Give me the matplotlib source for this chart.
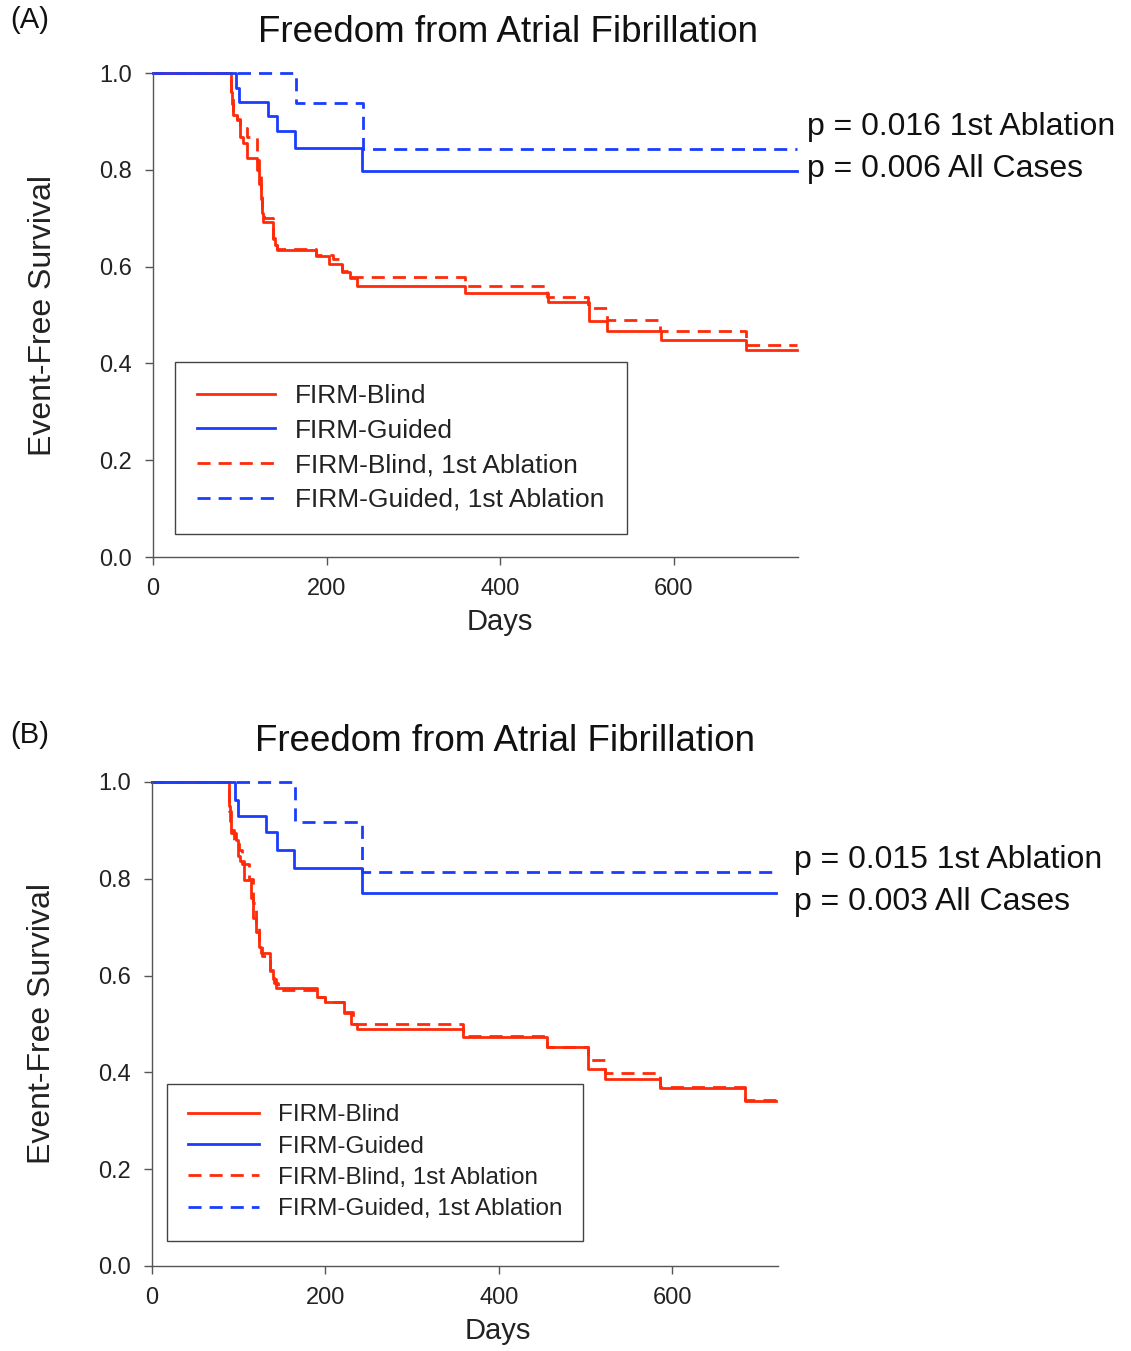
import matplotlib
matplotlib.use("Agg")
import matplotlib.pyplot as plt

plt.rcParams['font.family'] = ['Liberation Sans', 'DejaVu Sans']

# Panel A (Kaplan-Meier step data)
a_blind_t = [0, 90, 91, 92, 97, 100, 104, 108, 120, 122, 124, 126, 127, 138, 141, 143,
             188, 203, 218, 227, 235, 360, 455, 503, 523, 586, 684, 742]
a_blind_s = [1.0, 0.96, 0.935, 0.913, 0.903, 0.868, 0.855, 0.824, 0.80, 0.77, 0.74, 0.71,
             0.693, 0.658, 0.645, 0.634, 0.622, 0.605, 0.589, 0.576, 0.560, 0.545, 0.527,
             0.488, 0.467, 0.448, 0.428, 0.428]
a_blind1_t = [0, 90, 92, 97, 100, 108, 120, 122, 124, 126, 128, 138, 141, 143, 188, 207,
              218, 228, 360, 454, 502, 523, 585, 684, 742]
a_blind1_s = [1.0, 0.95, 0.92, 0.905, 0.886, 0.867, 0.82, 0.79, 0.75, 0.72, 0.70, 0.66,
              0.645, 0.636, 0.624, 0.615, 0.59, 0.578, 0.560, 0.538, 0.514, 0.490, 0.466,
              0.439, 0.439]
a_guided_t = [0, 96, 99, 133, 143, 164, 241, 742]
a_guided_s = [1.0, 0.968, 0.941, 0.911, 0.880, 0.846, 0.798, 0.798]
a_guided1_t = [0, 165, 242, 742]
a_guided1_s = [1.0, 0.939, 0.843, 0.843]

# Panel B
b_blind_t = [0, 89, 90, 91, 97, 99, 101, 106, 114, 117, 120, 123, 126, 136, 139, 143,
             190, 200, 221, 230, 236, 359, 455, 503, 523, 586, 684, 720]
b_blind_s = [1.0, 0.95, 0.92, 0.894, 0.881, 0.847, 0.836, 0.797, 0.76, 0.72, 0.69, 0.66,
             0.646, 0.612, 0.594, 0.574, 0.556, 0.546, 0.522, 0.50, 0.490, 0.474, 0.453,
             0.408, 0.386, 0.367, 0.340, 0.340]
b_blind1_t = [0, 89, 91, 95, 100, 104, 112, 116, 120, 123, 127, 136, 141, 145, 190, 200,
              221, 232, 359, 455, 503, 523, 586, 684, 720]
b_blind1_s = [1.0, 0.94, 0.90, 0.88, 0.86, 0.83, 0.80, 0.75, 0.70, 0.67, 0.64, 0.61,
              0.585, 0.570, 0.556, 0.546, 0.525, 0.499, 0.475, 0.453, 0.426, 0.398, 0.370,
              0.342, 0.342]
b_guided_t = [0, 96, 99, 132, 144, 164, 242, 720]
b_guided_s = [1.0, 0.963, 0.930, 0.896, 0.860, 0.822, 0.770, 0.770]
b_guided1_t = [0, 165, 242, 720]
b_guided1_s = [1.0, 0.917, 0.815, 0.815]

labels = ['FIRM-Blind', 'FIRM-Guided', 'FIRM-Blind, 1st Ablation', 'FIRM-Guided, 1st Ablation']
xticks = [0, 200, 400, 600]
yticks = [0.0, 0.2, 0.4, 0.6, 0.8, 1.0]

RED = '#ff2a0a'
BLUE = '#1a3cff'
DASH = (0, (4.7, 2.9))

W, H = 1131, 1351
fig = plt.figure(figsize=(W / 100, H / 100), dpi=100)


def panel(rect, xmax, series, pvals, ptxt_xy, tag, tag_y, title_x, xlab_x,
          leg_anchor, leg_fs, leg_sp):
    ax = fig.add_axes(rect)
    styles = [(RED, '-'), (BLUE, '-'), (RED, DASH), (BLUE, DASH)]
    for (t, s), (c, ls), lab in zip(series, styles, labels):
        ax.step(t, s, where='post', color=c, linestyle=ls, lw=2.0, label=lab,
                clip_on=False)
    ax.set_xlim(0, xmax)
    ax.set_ylim(0, 1.0)
    ax.set_xticks(xticks)
    ax.set_yticks(yticks)
    ax.set_yticklabels(['%.1f' % v for v in yticks])
    for sp in ['top', 'right']:
        ax.spines[sp].set_visible(False)
    for sp in ['left', 'bottom']:
        ax.spines[sp].set_color('#555555')
        ax.spines[sp].set_linewidth(1.0)
    ax.tick_params(direction='out', length=6, width=1.0, color='#555555',
                   labelsize=17, pad=9, labelcolor='#222222')
    ax.set_xlabel('Days', fontsize=21, labelpad=6, color='#222222', x=xlab_x)
    ax.set_ylabel('Event-Free Survival', fontsize=23, labelpad=30, color='#222222')
    ax.set_title('Freedom from Atrial Fibrillation', fontsize=26.5, pad=22,
                 color='#111111', x=title_x)
    leg = ax.legend(loc='lower left', bbox_to_anchor=leg_anchor, borderaxespad=0,
                    fontsize=leg_fs, frameon=True, fancybox=False, framealpha=1,
                    edgecolor='#444444', handlelength=2.95, handletextpad=0.75,
                    labelspacing=leg_sp, borderpad=0.85)
    leg.get_frame().set_linewidth(1.0)
    for lt in leg.get_texts():
        lt.set_color('#222222')
    fig.text(ptxt_xy[0] / W, 1 - ptxt_xy[1] / H, pvals[0], fontsize=23,
             va='center', ha='left', color='#111111')
    fig.text(ptxt_xy[0] / W, 1 - (ptxt_xy[1] + 42) / H, pvals[1], fontsize=23,
             va='center', ha='left', color='#111111')
    fig.text(10 / W, 1 - tag_y / H, tag, fontsize=21, va='center', ha='left',
             color='#111111')
    return ax


panel([153 / W, 1 - 557 / H, (798 - 153) / W, 484 / H], 743.5,
      [(a_blind_t, a_blind_s), (a_guided_t, a_guided_s),
       (a_blind1_t, a_blind1_s), (a_guided1_t, a_guided1_s)],
      ['p = 0.016 1st Ablation', 'p = 0.006 All Cases'], (807, 127),
      '(A)', 20, 0.55, 0.538, (0.034, 0.047), 19, 0.4)

panel([152 / W, 1 - 1266 / H, (778 - 152) / W, 484 / H], 722,
      [(b_blind_t, b_blind_s), (b_guided_t, b_guided_s),
       (b_blind1_t, b_blind1_s), (b_guided1_t, b_guided1_s)],
      ['p = 0.015 1st Ablation', 'p = 0.003 All Cases'], (794, 860),
      '(B)', 735, 0.564, 0.553, (0.024, 0.052), 17.5, 0.38)

fig.savefig('out.png', dpi=100)
